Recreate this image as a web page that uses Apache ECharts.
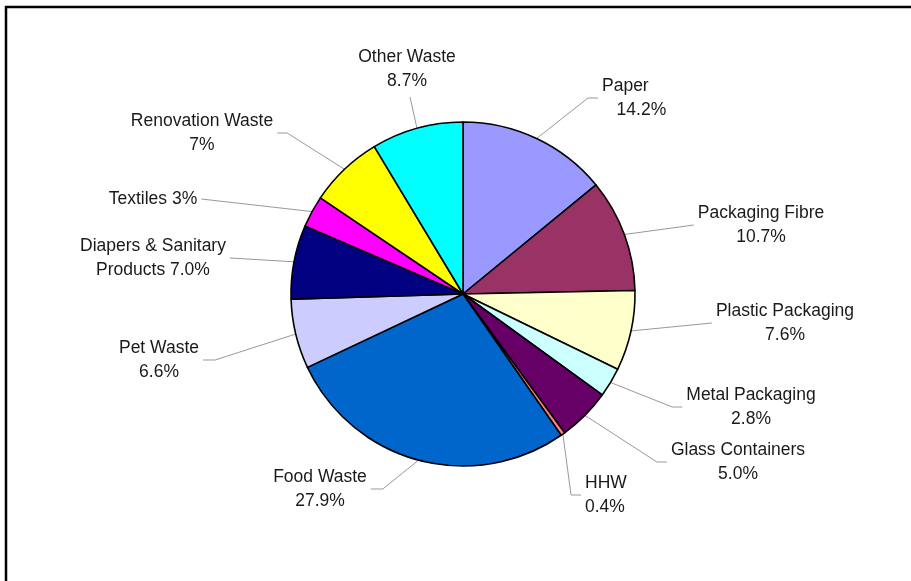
<!DOCTYPE html>
<html><head><meta charset="utf-8">
<script src="https://cdn.jsdelivr.net/npm/echarts@6/dist/echarts.min.js"></script>
<style>html,body{margin:0;padding:0;background:#fff}#c{width:911px;height:581px}</style>
</head><body><div id="c"></div>
<script>
const categories = ['Paper','Packaging Fibre','Plastic Packaging','Metal Packaging','Glass Containers','HHW','Food Waste','Pet Waste','Diapers & Sanitary Products','Textiles','Renovation Waste','Other Waste'];
const values = [14.2, 10.7, 7.6, 2.8, 5.0, 0.4, 27.9, 6.6, 7.0, 3, 7, 8.7];
const labelTexts = ['Paper\n   14.2%','Packaging Fibre\n10.7%','Plastic Packaging\n7.6%','Metal Packaging\n2.8%','Glass Containers\n5.0%','HHW\n0.4%','Food Waste\n27.9%','Pet Waste\n6.6%','Diapers & Sanitary\nProducts 7.0%','Textiles 3%','Renovation Waste\n7%','Other Waste\n8.7%'];
const colors = ['#9999FF','#993366','#FFFFCC','#CCFFFF','#660066','#FF8080','#0066CC','#CCCCFF','#000080','#FF00FF','#FFFF00','#00FFFF'];
// label placement: [x, y, align, side the leader line attaches, tail length]
const labelPos = [
  [602, 98, 'left', 'R', 10],
  [761, 225, 'center', 'R', 0],
  [785, 323, 'center', 'R', 0],
  [751, 407, 'center', 'R', 10],
  [738, 462, 'center', 'R', 10],
  [585, 495, 'left', 'R', 10],
  [320, 489, 'center', 'L', 12],
  [159, 360, 'center', 'L', 12],
  [153, 258, 'center', 'L', 0],
  [153, 199, 'center', 'L', 0],
  [202, 133, 'center', 'L', 10],
  [407, 69, 'center', 'T', 0]
];

const chart = echarts.init(document.getElementById('c'), null, {renderer: 'canvas'});
const data = categories.map((c, i) => ({name: c, value: values[i], itemStyle: {color: colors[i]}}));

chart.setOption({
  animation: false,
  backgroundColor: '#fff',
  graphic: [{
    type: 'rect', shape: {x: 6, y: 7, width: 1200, height: 1200},
    style: {fill: null, stroke: '#000', lineWidth: 2.5}, silent: true
  }],
  series: [{
    type: 'pie',
    center: [463, 294],
    radius: 172,
    startAngle: 90,
    clockwise: true,
    avoidLabelOverlap: false,
    data: data,
    itemStyle: {borderColor: '#000', borderWidth: 1.6},
    label: {
      show: true,
      position: 'outside',
      color: '#1a1a1a',
      fontSize: 17.5,
      fontFamily: 'Liberation Sans, Arial, sans-serif',
      lineHeight: 24,
      formatter: p => labelTexts[p.dataIndex]
    },
    labelLine: {show: true, length: 10, length2: 10, lineStyle: {color: '#999', width: 1}},
    emphasis: {disabled: true},
    labelLayout: function (p) {
      const lp = labelPos[p.dataIndex];
      const x = lp[0], y = lp[1], align = lp[2], side = lp[3], tail = lp[4];
      const w = p.labelRect.width, h = p.labelRect.height;
      const s = p.labelLinePoints ? p.labelLinePoints[0] : null;
      let end, bend;
      if (side === 'T') { end = [x + 3, y + h / 2 + 4]; bend = end; }
      else if (side === 'R') { const left = align === 'left' ? x : x - w / 2; end = [left - 4, y]; bend = [end[0] - tail, y]; }
      else { const right = x + w / 2; end = [right + 4, y]; bend = [end[0] + tail, y]; }
      const out = {x: x, y: y, align: align, verticalAlign: 'middle', hideOverlap: false};
      if (s) out.labelLinePoints = [s, bend, end];
      return out;
    }
  }]
});
</script>
</body></html>
